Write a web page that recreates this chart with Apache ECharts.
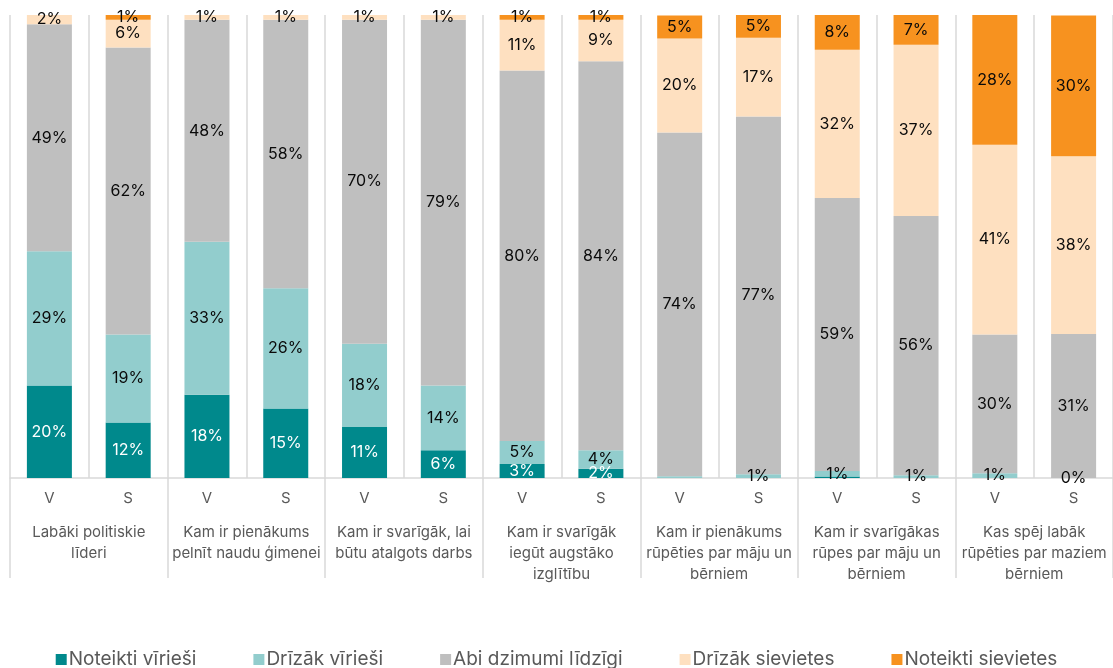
<!DOCTYPE html>
<html>
<head>
<meta charset="utf-8">
<script src="https://cdn.jsdelivr.net/npm/echarts@6/dist/echarts.min.js"></script>
<style>html,body{margin:0;padding:0;background:#fff}#c{width:1113px;height:668px}</style>
</head>
<body>
<div id="c"></div>
<script>
const barLabels = ['V','S','V','S','V','S','V','S','V','S','V','S','V','S'];
const groupLabels = [
  'Labāki politiskie\nlīderi',
  'Kam ir pienākums\npelnīt naudu ģimenei',
  'Kam ir svarīgāk, lai\nbūtu atalgots darbs',
  'Kam ir svarīgāk\niegūt augstāko\nizglītību',
  'Kam ir pienākums\nrūpēties par māju un\nbērniem',
  'Kam ir svarīgākas\nrūpes par māju un\nbērniem',
  'Kas spēj labāk\nrūpēties par maziem\nbērniem'
];
const seriesNames = ['Noteikti vīrieši','Drīzāk vīrieši','Abi dzimumi līdzīgi','Drīzāk sievietes','Noteikti sievietes'];
const noteiktiVirieshi = [20, 12, 18, 15, 11, 6, 3, 2, null, null, 0.3, null, null, null];
const drizakVirieshi   = [29, 19, 33, 26, 18, 14, 5, 4, 0.4, 0.8, 1.2, 0.6, 1, 0];
const abiDzimumi       = [49, 62, 48, 58, 70, 79, 80, 84, 74.2, 77.3, 59, 56, 30, 31.1];
const drizakSievietes  = [2, 6, 1, 1, 1, 1, 11, 9, 20.3, 17, 32, 37, 41, 38.4];
const noteiktiSievietes= [0.3, 1, 0.3, null, null, 0.2, 1, 1, 5, 4.9, 7.6, 7, 28, 30.4];
const colors = ['#00898C','#92CDCD','#BFBFBF','#FEE0C0','#F7921F'];
const allData = [noteiktiVirieshi, drizakVirieshi, abiDzimumi, drizakSievietes, noteiktiSievietes];

const FONT = 'Inter';
const chart = echarts.init(document.getElementById('c'), null, {renderer:'canvas'});
const series = allData.map((arr, i) => ({
  name: seriesNames[i],
  type: 'bar',
  stack: 'total',
  barWidth: 45,
  xAxisIndex: 0,
  itemStyle: {color: colors[i]},
  label: {
    show: true,
    position: 'inside',
    fontFamily: FONT,
    fontSize: 16,
    color: i === 0 ? '#ffffff' : '#0a0a0a',
    formatter: p => {
      const v = p.value;
      if (v === null || v === undefined) return '';
      if (v === 0) return '0%';
      if (v < 0.5) return '';
      return Math.round(v) + '%';
    }
  },
  data: arr
}));

chart.setOption({
  animation: false,
  textStyle: {fontFamily: FONT},
  grid: {left: 10, right: 0, top: 15, bottom: 190},
  legend: {
    data: seriesNames,
    left: 'center',
    top: 650,
    icon: 'rect',
    itemWidth: 11,
    itemHeight: 11,
    itemGap: 57,
    padding: 0,
    selectedMode: false,
    textStyle: {fontFamily: FONT, fontSize: 19, color: '#595959', padding: [0,0,0,-3]}
  },
  xAxis: [
    {
      type: 'category',
      position: 'bottom',
      data: barLabels,
      axisLine: {show: true, lineStyle: {color: '#d9d9d9', width: 1.5}},
      axisTick: {show: false},
      splitLine: {show: true, lineStyle: {color: '#d9d9d9', width: 1.5}},
      axisLabel: {fontFamily: FONT, fontSize: 15, color: '#595959', margin: 13}
    },
    {
      type: 'category',
      position: 'bottom',
      offset: 0,
      data: groupLabels,
      axisLine: {show: false},
      axisTick: {show: true, length: 100, lineStyle: {color: '#d9d9d9', width: 1.5}},
      splitLine: {show: false},
      axisLabel: {fontFamily: FONT, fontSize: 15, color: '#595959', margin: 44, lineHeight: 21, interval: 0}
    }
  ],
  yAxis: {type: 'value', min: 0, max: 100, show: false, splitLine: {show: false}},
  series: series
});
</script>
</body>
</html>
